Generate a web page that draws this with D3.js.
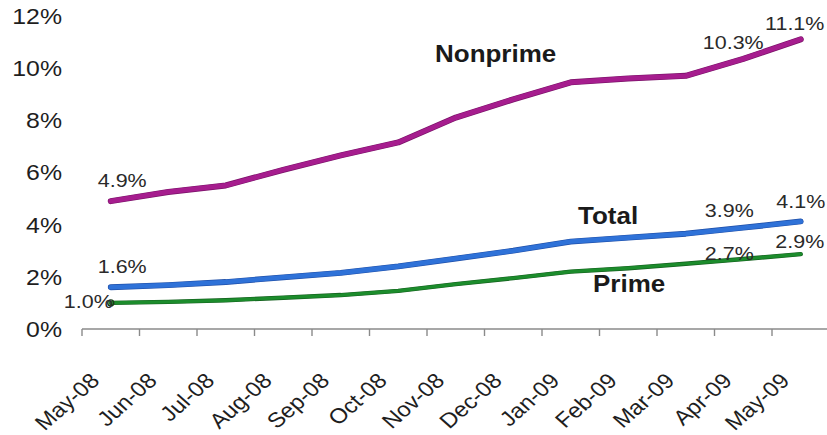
<!DOCTYPE html>
<html>
<head>
<meta charset="utf-8">
<script src="https://cdn.jsdelivr.net/npm/d3@7"></script>
<style>
  html, body { margin: 0; padding: 0; background: #ffffff; }
  svg { display: block; }
</style>
</head>
<body>
<svg id="chart" width="827" height="435"></svg>
<script>
// ---- data ----
const categories = ["May-08","Jun-08","Jul-08","Aug-08","Sep-08","Oct-08","Nov-08","Dec-08","Jan-09","Feb-09","Mar-09","Apr-09","May-09"];
const nonprime = [4.9, 5.25, 5.5, 6.1, 6.65, 7.15, 8.1, 8.8, 9.45, 9.6, 9.7, 10.35, 11.1];
const total    = [1.6, 1.68, 1.8, 1.98, 2.15, 2.4, 2.7, 3.0, 3.35, 3.5, 3.65, 3.88, 4.12];
const prime    = [1.0, 1.04, 1.1, 1.2, 1.3, 1.46, 1.72, 1.95, 2.2, 2.33, 2.5, 2.68, 2.87];
const yTicks = [0, 2, 4, 6, 8, 10, 12];
const seriesNames = ["Nonprime", "Total", "Prime"];

// ---- layout ----
const SX = 1.13; // horizontal stretch of the original picture
const svg = d3.select("#chart");
const font = "'Liberation Sans', Arial, Helvetica, sans-serif";

const x = d3.scaleBand().domain(categories).range([82, 829.5]).padding(0);
const y = d3.scaleLinear().domain([0, 12]).range([329, 15.8]);
const cx = c => x(c) + x.bandwidth() / 2;

function addText(px, py, str, opt = {}) {
  const g = svg.append("g")
    .attr("transform", `translate(${px},${py}) scale(${SX},1)` + (opt.rotate ? ` rotate(${opt.rotate})` : ""));
  g.append("text")
    .attr("x", 0).attr("y", 0)
    .attr("text-anchor", opt.anchor || "start")
    .attr("font-family", font)
    .attr("font-size", opt.size || 19)
    .attr("font-weight", opt.weight || "normal")
    .attr("fill", opt.fill || "#2a2a2a")
    .text(str);
}

// y tick labels
yTicks.forEach(v => addText(62, y(v) + 8, v + "%", { anchor: "end", size: 22, fill: "#1e1e1e" }));

// x axis line and ticks (ticks at band boundaries)
const xr = x.range();
svg.append("line")
  .attr("x1", xr[0]).attr("x2", xr[1]).attr("y1", y(0)).attr("y2", y(0))
  .attr("stroke", "#8a8a8a").attr("stroke-width", 1.6);
const boundaries = categories.map(c => x(c)).concat([xr[1]]);
svg.selectAll(".xtick").data(boundaries).enter().append("line")
  .attr("x1", d => d).attr("x2", d => d)
  .attr("y1", y(0)).attr("y2", y(0) + 7)
  .attr("stroke", "#8a8a8a").attr("stroke-width", 1.4);

// x tick labels rotated
categories.forEach(c => addText(cx(c) - 10, 382, c, { anchor: "end", size: 21, rotate: -45, fill: "#1e1e1e" }));

// lines
const line = d3.line().x((d, i) => cx(categories[i])).y(d => y(d)).curve(d3.curveLinear);
function drawSeries(data, color, edge, w) {
  svg.append("path").datum(data).attr("d", line)
    .attr("fill", "none").attr("stroke", edge).attr("stroke-width", w + 1.2)
    .attr("stroke-linecap", "round").attr("stroke-linejoin", "round");
  svg.append("path").datum(data).attr("d", line)
    .attr("fill", "none").attr("stroke", color).attr("stroke-width", w)
    .attr("stroke-linecap", "round").attr("stroke-linejoin", "round");
}
drawSeries(prime, "#1c8c2c", "#145f1e", 3.2);
drawSeries(total, "#2f72d8", "#1f4fa8", 4.6);
drawSeries(nonprime, "#a61d8e", "#7a1268", 4.8);

// small marker at Prime start
svg.append("circle").attr("cx", cx(categories[0])).attr("cy", y(prime[0]))
  .attr("r", 3).attr("fill", "none").attr("stroke", "#1a3a1a").attr("stroke-width", 1.4);

// value labels
const fmt = v => v.toFixed(1) + "%";
const last = categories.length - 1;
const labNP = [4.9, 10.3, 11.1], labT = [1.6, 3.9, 4.1], labP = [1.0, 2.7, 2.9];
addText(cx(categories[0]) - 13, y(nonprime[0]) - 14, fmt(labNP[0]));
addText(cx(categories[last - 1]) - 10, y(nonprime[last - 1]) - 10, fmt(labNP[1]), { anchor: "middle" });
addText(cx(categories[last]) - 6, y(nonprime[last]) - 9, fmt(labNP[2]), { anchor: "middle" });

addText(cx(categories[0]) - 13, y(total[0]) - 14, fmt(labT[0]));
addText(cx(categories[last - 1]) - 14, y(total[last - 1]) - 11, fmt(labT[1]), { anchor: "middle" });
addText(cx(categories[last]) + 0, y(total[last]) - 13, fmt(labT[2]), { anchor: "middle" });

addText(cx(categories[0]) + 2, y(prime[0]) + 5, fmt(labP[0]), { anchor: "end" });
addText(cx(categories[last - 1]) - 14, y(prime[last - 1]) + 1, fmt(labP[1]), { anchor: "middle" });
addText(cx(categories[last]) - 1, y(prime[last]) - 6, fmt(labP[2]), { anchor: "middle" });

// series names
addText(435, 62, seriesNames[0], { size: 23, weight: "bold", fill: "#1a1a1a" });
addText(578, 224, seriesNames[1], { size: 23, weight: "bold", fill: "#1a1a1a" });
addText(593, 292, seriesNames[2], { size: 23, weight: "bold", fill: "#1a1a1a" });
</script>
</body>
</html>
